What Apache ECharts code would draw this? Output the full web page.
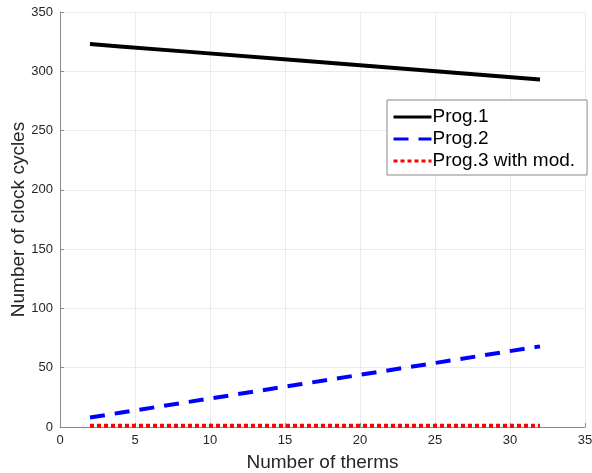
<!DOCTYPE html>
<html>
<head>
<meta charset="utf-8">
<script src="https://cdn.jsdelivr.net/npm/echarts@6/dist/echarts.min.js"></script>
<style>
  html, body { margin: 0; padding: 0; background: #fff; }
  #chart { width: 592px; height: 473px; }
</style>
</head>
<body>
<div id="chart"></div>
<script>
// number of terms
var terms = [2, 4, 8, 16, 32];
var prog1 = [323, 321, 317, 309, 293];
var prog2 = [8, 12, 20, 36, 68];
var prog3 = [1, 1, 1, 1, 1];
var seriesNames = ['Prog.1', 'Prog.2', 'Prog.3 with mod.'];

function pairs(xs, ys) {
	var out = [];
	for (var i = 0; i < xs.length; ++i) {
		out.push([xs[i], ys[i]]);
	}
	return out;
}

var font = 'Liberation Sans, Arial, Helvetica, sans-serif';

var option = {
	animation: false,
	backgroundColor: '#fff',
	grid: { left: 60, right: 7, top: 12, bottom: 46, outerBoundsMode: 'none' },
	xAxis: {
		type: 'value',
		min: 0, max: 35, interval: 5,
		name: 'Number of therms',
		nameLocation: 'middle',
		nameGap: 26,
		nameMoveOverlap: false,
		nameTextStyle: { fontFamily: font, fontSize: 19, color: '#262626' },
		axisLine: { show: true, lineStyle: { color: '#8a8a8a', width: 1 } },
		axisTick: { show: true, inside: true, length: 4, lineStyle: { color: '#8a8a8a' } },
		axisLabel: { fontFamily: font, fontSize: 13, color: '#262626', margin: 7 },
		splitLine: { show: true, lineStyle: { color: '#ebebeb' } }
	},
	yAxis: {
		type: 'value',
		min: 0, max: 350, interval: 50,
		name: 'Number of clock cycles',
		nameLocation: 'middle',
		nameGap: 32,
		nameMoveOverlap: false,
		nameTextStyle: { fontFamily: font, fontSize: 19, color: '#262626' },
		axisLine: { show: true, lineStyle: { color: '#8a8a8a', width: 1 } },
		axisTick: { show: true, inside: true, length: 4, lineStyle: { color: '#8a8a8a' } },
		axisLabel: { fontFamily: font, fontSize: 13, color: '#262626', margin: 7 },
		splitLine: { show: true, lineStyle: { color: '#ebebeb' } }
	},
	legend: {
		orient: 'vertical',
		left: 387, top: 100,
		itemWidth: 38, itemHeight: 20, itemGap: 2,
		padding: [7, 12, 4, 5],
		backgroundColor: '#fff',
		borderColor: '#8a8a8a', borderWidth: 1, borderRadius: 0,
		itemStyle: { opacity: 0 },
		lineStyle: { width: 3 },
		textStyle: { fontFamily: font, fontSize: 19, lineHeight: 20, color: '#000', padding: [0, 0, 0, -4] },
		data: seriesNames
	},
	series: [
		{
			name: seriesNames[0], type: 'line', symbol: 'none',
			data: pairs(terms, prog1),
			lineStyle: { color: '#000', width: 4 },
			itemStyle: { color: '#000' }
		},
		{
			name: seriesNames[1], type: 'line', symbol: 'none',
			data: pairs(terms, prog2),
			lineStyle: { color: '#0000ff', width: 4, type: [15, 10] },
			itemStyle: { color: '#0000ff' }
		},
		{
			name: seriesNames[2], type: 'line', symbol: 'none',
			data: pairs(terms, prog3),
			lineStyle: { color: '#ff0000', width: 4, type: [4, 3] },
			itemStyle: { color: '#ff0000' }
		}
	]
};

var chart = echarts.init(document.getElementById('chart'));
chart.setOption(option);
</script>
</body>
</html>
